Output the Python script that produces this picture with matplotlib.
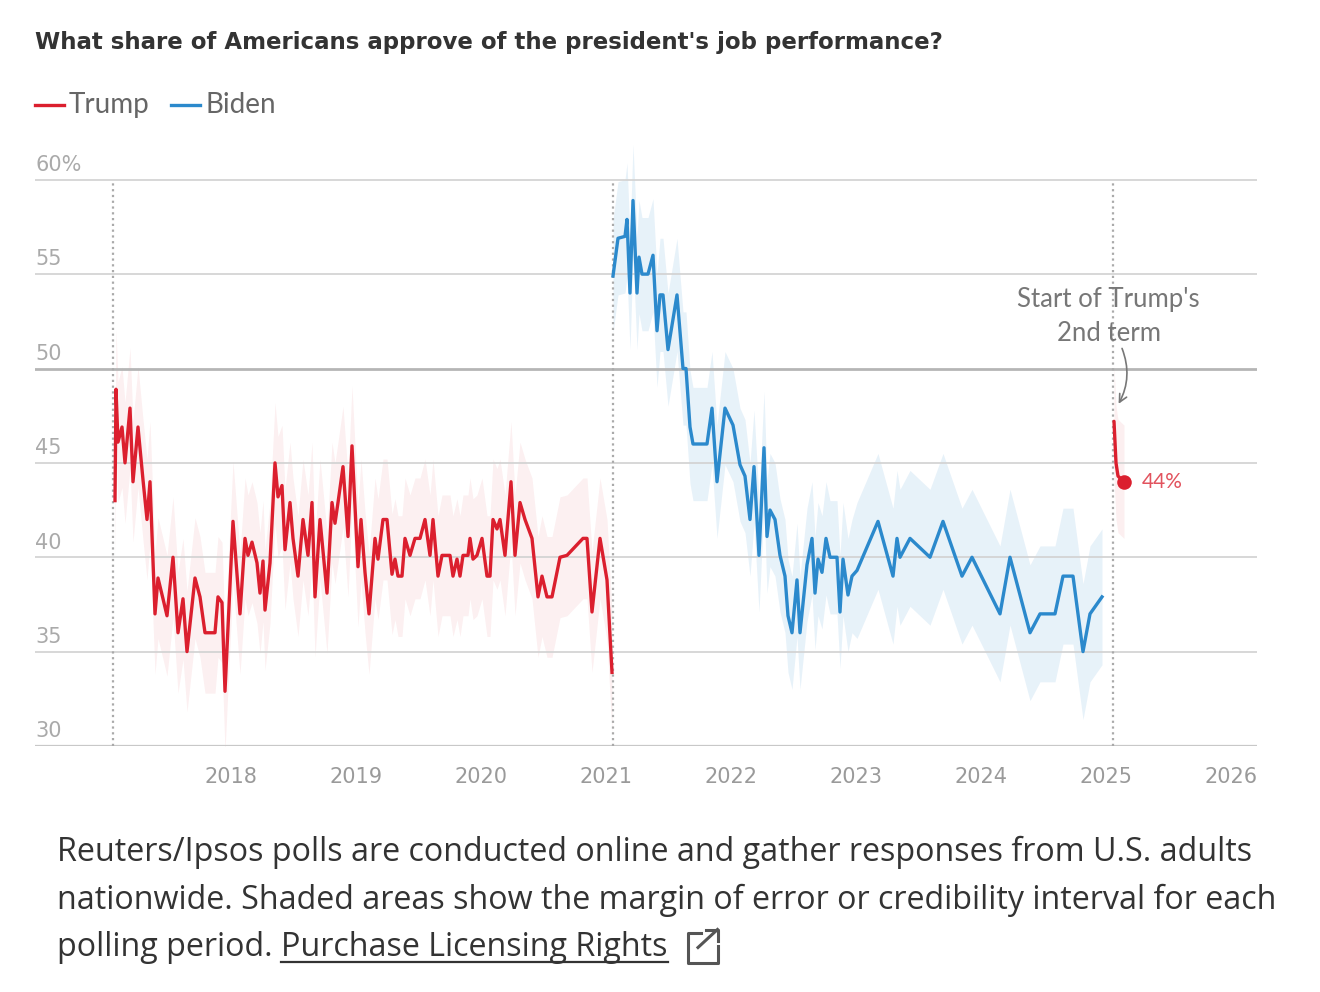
import matplotlib
matplotlib.use("Agg")
import matplotlib.pyplot as plt
from matplotlib.lines import Line2D
import numpy as np

# decimal years and approval (%)
trump1_year = [2017.072, 2017.080, 2017.096, 2017.128, 2017.152, 2017.192, 2017.216, 2017.256,
               2017.296, 2017.328, 2017.352, 2017.392, 2017.416, 2017.456, 2017.488, 2017.536,
               2017.576, 2017.616, 2017.648, 2017.712, 2017.752, 2017.792, 2017.872, 2017.896,
               2017.928, 2017.952, 2018.016, 2018.072, 2018.112, 2018.136, 2018.168, 2018.208,
               2018.232, 2018.256, 2018.272, 2018.312, 2018.352, 2018.376, 2018.408, 2018.432,
               2018.472, 2018.496, 2018.536, 2018.576, 2018.616, 2018.648, 2018.672, 2018.712,
               2018.768, 2018.808, 2018.832, 2018.856, 2018.896, 2018.936, 2018.968, 2019.016,
               2019.040, 2019.072, 2019.104, 2019.152, 2019.176, 2019.216, 2019.248, 2019.288,
               2019.312, 2019.336, 2019.368, 2019.392, 2019.432, 2019.472, 2019.512, 2019.552,
               2019.592, 2019.616, 2019.656, 2019.688, 2019.752, 2019.776, 2019.808, 2019.832,
               2019.856, 2019.896, 2019.912, 2019.936, 2019.968, 2020.008, 2020.048, 2020.072,
               2020.096, 2020.128, 2020.152, 2020.192, 2020.240, 2020.272, 2020.312, 2020.352,
               2020.408, 2020.456, 2020.488, 2020.528, 2020.568, 2020.632, 2020.688, 2020.816,
               2020.848, 2020.888, 2020.952, 2021.008, 2021.048]
trump1_pct = [43.0, 48.9, 46.1, 46.9, 45.0, 47.9, 44.0, 46.9,
              44.1, 42.0, 44.0, 37.0, 38.9, 37.8, 36.9, 40.0,
              36.0, 37.8, 35.0, 38.9, 37.9, 36.0, 36.0, 37.9,
              37.6, 32.9, 41.9, 37.0, 41.0, 40.1, 40.8, 39.7,
              38.1, 39.8, 37.2, 39.7, 45.0, 43.2, 43.8, 40.4,
              42.9, 41.0, 39.0, 42.0, 40.1, 42.9, 37.9, 42.0,
              38.1, 42.9, 41.8, 42.9, 44.8, 41.1, 45.9, 39.5,
              42.0, 39.2, 37.0, 41.0, 39.9, 42.0, 42.0, 39.1,
              39.9, 39.0, 39.0, 41.0, 40.1, 41.0, 41.0, 42.0,
              40.1, 42.0, 39.0, 40.1, 40.1, 39.0, 39.9, 39.0,
              40.1, 40.1, 41.0, 39.9, 40.1, 41.0, 39.0, 39.0,
              42.0, 41.5, 42.0, 40.1, 44.0, 40.1, 42.9, 42.0,
              41.0, 37.9, 39.0, 37.9, 37.9, 40.0, 40.1, 41.0,
              41.0, 37.1, 41.0, 38.8, 33.9]

biden_year = [2021.056, 2021.096, 2021.152, 2021.168, 2021.192, 2021.216, 2021.248, 2021.264,
              2021.288, 2021.336, 2021.376, 2021.408, 2021.432, 2021.456, 2021.496, 2021.568,
              2021.616, 2021.640, 2021.672, 2021.696, 2021.728, 2021.808, 2021.848, 2021.888,
              2021.952, 2022.016, 2022.072, 2022.112, 2022.152, 2022.184, 2022.224, 2022.264,
              2022.288, 2022.312, 2022.352, 2022.392, 2022.432, 2022.456, 2022.488, 2022.528,
              2022.552, 2022.608, 2022.648, 2022.672, 2022.696, 2022.728, 2022.760, 2022.792,
              2022.848, 2022.872, 2022.896, 2022.936, 2022.968, 2023.008, 2023.176, 2023.296,
              2023.328, 2023.352, 2023.432, 2023.592, 2023.696, 2023.848, 2023.928, 2024.152,
              2024.232, 2024.392, 2024.472, 2024.592, 2024.656, 2024.736, 2024.816, 2024.872,
              2024.968]
biden_pct = [54.9, 56.9, 57.0, 57.9, 54.0, 58.9, 54.0, 55.9,
             55.0, 55.0, 56.0, 52.0, 53.9, 53.9, 51.0, 53.9,
             50.0, 50.0, 46.9, 46.0, 46.0, 46.0, 47.9, 44.0,
             47.9, 47.0, 44.9, 44.3, 42.0, 44.8, 40.1, 45.8,
             41.1, 42.5, 42.0, 40.1, 39.0, 36.9, 36.0, 38.8,
             36.0, 39.6, 41.0, 38.1, 39.9, 39.2, 41.0, 40.0,
             40.0, 37.1, 39.9, 38.0, 39.0, 39.3, 41.9, 39.0,
             41.0, 40.0, 41.0, 40.0, 41.9, 39.0, 40.0, 37.0,
             40.0, 36.0, 37.0, 37.0, 39.0, 39.0, 35.0, 37.0,
             37.9]

trump2_year = [2025.064, 2025.080, 2025.096, 2025.144]
trump2_pct = [47.2, 45.0, 44.3, 44.0]

# half-width of the shaded margin of error / credibility interval
trump_moe = 3.2
biden_moe_polls = 3.0      # through 2022
biden_moe_cred = 3.6       # 2023 onward
trump2_moe = 3.0

term_starts = [2017.056, 2021.056, 2025.056]
year_ticks = [2018, 2019, 2020, 2021, 2022, 2023, 2024, 2025, 2026]
pct_ticks = [30, 35, 40, 45, 50, 55, 60]

RED = "#db1f2e"
BLUE = "#2b89cc"

fig = plt.figure(figsize=(13.2, 9.92), dpi=100)
ax = fig.add_axes([35 / 1320, 1 - 746 / 992, (1257 - 35) / 1320, (746 - 142) / 992])

ty = np.array(trump1_year)
tp = np.array(trump1_pct)
by = np.array(biden_year)
bp = np.array(biden_pct)
bm = np.where(by < 2023, biden_moe_polls, biden_moe_cred)

ax.fill_between(ty, tp - trump_moe, tp + trump_moe, color=RED, alpha=0.065, lw=0)
ax.fill_between(by, bp - bm, bp + bm, color=BLUE, alpha=0.11, lw=0)
t2y = np.array(trump2_year)
t2p = np.array(trump2_pct)
ax.fill_between(t2y, t2p - trump2_moe, t2p + trump2_moe, color=RED, alpha=0.07, lw=0)

for yv in pct_ticks:
    if yv == 50:
        ax.axhline(yv, color="#b5b5b5", lw=2.0, zorder=1)
    elif yv == 30:
        ax.axhline(yv, color="#c8c8c8", lw=1.6, zorder=1)
    else:
        ax.axhline(yv, color="#d4d4d4", lw=1.3, zorder=1)

for xv in term_starts:
    ax.plot([xv, xv], [30, 60], color="#aaaaaa", lw=1.6, ls=(0, (1, 1.6)), zorder=2)

ax.plot(ty, tp, color=RED, lw=2.4, zorder=4, solid_joinstyle="round")
ax.plot(by, bp, color=BLUE, lw=2.4, zorder=4, solid_joinstyle="round")
ax.plot(t2y, t2p, color=RED, lw=2.4, zorder=4, solid_capstyle="round")
ax.scatter([trump2_year[-1]], [trump2_pct[-1]], s=110, color=RED, zorder=5, lw=0)
ax.text(trump2_year[-1] + 0.14, trump2_pct[-1], f"{trump2_pct[-1]:.0f}%", color="#e2535e",
        fontsize=15, family="Lato", va="center", ha="left")

ax.text(2025.02, 52.75, "Start of Trump's\n2nd term", color="#777777", fontsize=18.5,
        family="Lato", ha="center", va="center", linespacing=1.45)
ax.annotate("", xy=(2025.09, 48.0), xytext=(2025.12, 51.2),
            arrowprops=dict(arrowstyle="->", color="#777777", lw=1.2,
                            connectionstyle="arc3,rad=-0.25", mutation_scale=14))

ax.set_xlim(2016.432, 2026.208)
ax.set_ylim(30, 62)
ax.set_xticks(year_ticks)
ax.set_xticklabels([str(y) for y in year_ticks])
ax.tick_params(axis="x", length=0, pad=15, labelsize=15, labelcolor="#9a9a9a")
ax.set_yticks([])
for yv in pct_ticks:
    lab = f"{yv}%" if yv == 60 else str(yv)
    ax.text(2016.432, yv + 0.25, lab, fontsize=15, color="#aaaaaa", ha="left", va="bottom")
for s in ax.spines.values():
    s.set_visible(False)

fig.text(35 / 1320, 1 - 42 / 992, "What share of Americans approve of the president's job performance?",
         fontsize=16.5, fontweight="bold", color="#333333", va="center", ha="left")

# legend
leg_y = 1 - 105 / 992
fig.add_artist(Line2D([35 / 1320, 64 / 1320], [leg_y, leg_y], color=RED, lw=2.4))
fig.text(69 / 1320, leg_y, "Trump", fontsize=20, family="Lato", color="#666666", va="center")
fig.add_artist(Line2D([171 / 1320, 200 / 1320], [leg_y, leg_y], color=BLUE, lw=2.4))
fig.text(205 / 1320, leg_y, "Biden", fontsize=20, family="Lato", color="#666666", va="center")

# caption
cap_kw = dict(fontsize=23.2, family="Open Sans", color="#333333", va="center", ha="left")
fig.text(57 / 1320, 1 - 852 / 992,
         "Reuters/Ipsos polls are conducted online and gather responses from U.S. adults", **cap_kw)
fig.text(57 / 1320, 1 - 900 / 992,
         "nationwide. Shaded areas show the margin of error or credibility interval for each", **cap_kw)
t1 = fig.text(57 / 1320, 1 - 948 / 992, "polling period. ", **cap_kw)
fig.canvas.draw()
inv = fig.transFigure.inverted()
bb1 = t1.get_window_extent()
x0 = inv.transform((bb1.x1, bb1.y0))[0]
t2 = fig.text(x0, 1 - 948 / 992, "Purchase Licensing Rights", **cap_kw)
fig.canvas.draw()
bb2 = t2.get_window_extent()
(ux0, uy), (ux1, _) = inv.transform([(bb2.x0, bb2.y0 + 3), (bb2.x1, bb2.y0)])
fig.add_artist(Line2D([ux0, ux1], [uy, uy], color="#333333", lw=1.6))

# external-link icon
px = bb2.x1 + 20
py = bb2.y0 + 2
sz = 30
box = [(px + sz * 0.45, py + sz), (px, py + sz), (px, py), (px + sz, py), (px + sz, py + sz * 0.55)]
bx = inv.transform(box)
fig.add_artist(Line2D(bx[:, 0], bx[:, 1], color="#555555", lw=2.2))
arr = inv.transform([(px + sz * 0.35, py + sz * 0.5), (px + sz * 1.0, py + sz * 1.1)])
fig.add_artist(Line2D(arr[:, 0], arr[:, 1], color="#555555", lw=2.2))
hd = inv.transform([(px + sz * 0.62, py + sz * 1.1), (px + sz * 1.0, py + sz * 1.1), (px + sz * 1.0, py + sz * 0.72)])
fig.add_artist(Line2D(hd[:, 0], hd[:, 1], color="#555555", lw=2.2))

fig.savefig("out.png", dpi=100, facecolor="white")
